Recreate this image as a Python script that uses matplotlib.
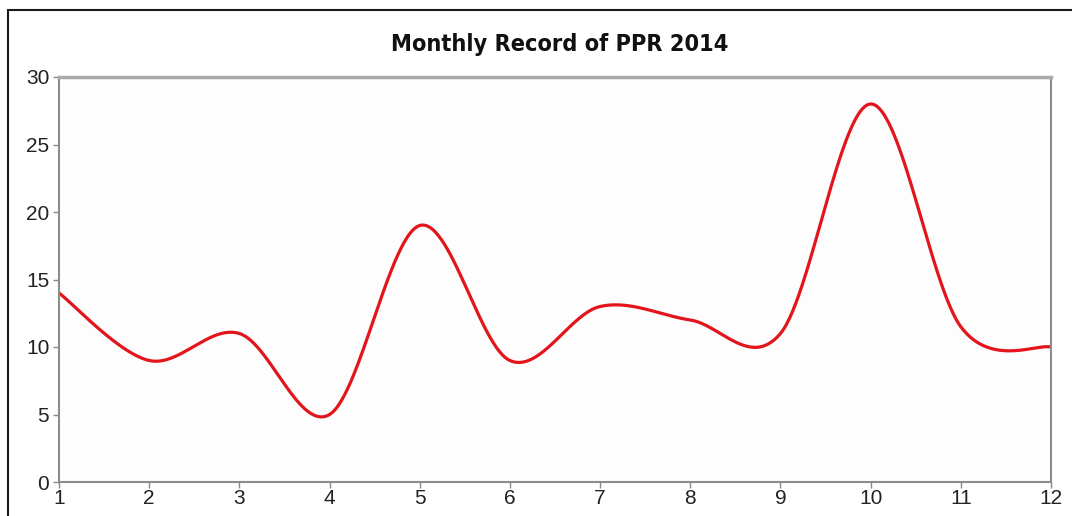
import numpy as np
import matplotlib
matplotlib.use("Agg")
import matplotlib.pyplot as plt
from matplotlib.patches import Rectangle

months = [1, 2, 3, 4, 5, 6, 7, 8, 9, 10, 11, 12]
ppr = [14, 9, 11, 5, 19, 9, 13, 12, 11, 28, 11.5, 10]
y_ticks = [0, 5, 10, 15, 20, 25, 30]
title = "Monthly Record of PPR 2014"


def excel_smooth(x, y, n=60):
    pts = np.column_stack([x, y]).astype(float)
    P = np.vstack([pts[0], pts, pts[-1]])
    segs = []
    t = np.linspace(0, 1, n)[:, None]
    for i in range(1, len(P) - 2):
        p0, p1, p2, p3 = P[i - 1], P[i], P[i + 1], P[i + 2]
        c1 = p1 + (p2 - p0) / 6.0
        c2 = p2 - (p3 - p1) / 6.0
        b = (1 - t) ** 3 * p1 + 3 * (1 - t) ** 2 * t * c1 + 3 * (1 - t) * t ** 2 * c2 + t ** 3 * p2
        segs.append(b if i == 1 else b[1:])
    c = np.vstack(segs)
    return c[:, 0], c[:, 1]


W, H = 1072, 516
fig = plt.figure(figsize=(W / 100, H / 100), dpi=100)
fig.patch.set_facecolor("white")

# outer frame
fig.add_artist(Rectangle((8 / W, -0.1), 1.2, (H - 10) / H + 0.1, transform=fig.transFigure,
                         fill=False, edgecolor="#1a1a1a", linewidth=1.5))

ax = fig.add_axes([59 / W, (H - 482) / H, (1051 - 59) / W, (482 - 77) / H])
ax.set_facecolor("#fdfdfd")

sx, sy = excel_smooth(months, ppr)
ax.plot(sx, sy, color="#e3151c", linewidth=2.3, solid_capstyle="round")

ax.set_xlim(1, 12)
ax.set_ylim(0, 30)
ax.set_xticks(months)
ax.set_yticks(y_ticks)

tick_font = dict(family=["Liberation Sans", "DejaVu Sans"], size=15, color="#222222")
ax.set_xticklabels([str(m) for m in months], **tick_font)
ax.set_yticklabels([str(v) for v in y_ticks], **tick_font)
ax.tick_params(axis="both", direction="out", length=4, width=1, color="#888888")
ax.tick_params(axis="y", pad=3)
ax.tick_params(axis="x", pad=1)

for side in ["left", "bottom", "right"]:
    ax.spines[side].set_color("#8c8c8c")
    ax.spines[side].set_linewidth(1.5)
ax.spines["top"].set_color("#aaaaaa")
ax.spines["top"].set_linewidth(2.5)

fig.text(560 / W, (H - 44) / H, title, ha="center", va="center",
         fontsize=16.8, fontweight="bold", fontstretch="condensed",
         family=["DejaVu Sans"], color="#111111")

fig.savefig("out.png", dpi=100)
